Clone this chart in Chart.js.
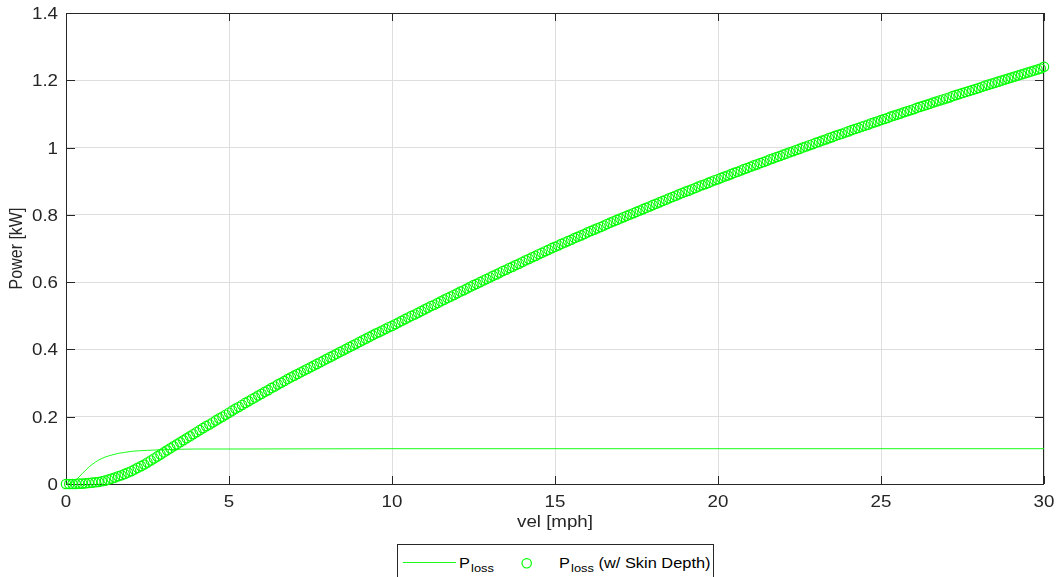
<!DOCTYPE html>
<html>
<head>
<meta charset="utf-8">
<script src="https://cdn.jsdelivr.net/npm/chart.js@4.4.1/dist/chart.umd.min.js"></script>
<style>
  html, body { margin: 0; padding: 0; background: #fff; }
  #wrap { position: relative; width: 1058px; height: 577px; overflow: hidden; }
  #legend {
    position: absolute; left: 397px; top: 544px; width: 317px; height: 40px;
    box-sizing: border-box; border: 1px solid #262626; background: #fff;
    font-family: "Liberation Sans", Arial, sans-serif; color: #000;
  }
  #legend .lab {
    position: absolute; top: 11px; font-size: 14px; line-height: 14px; white-space: nowrap;
    transform: scaleX(1.17); transform-origin: left center;
  }
  #legend .sub { font-size: 11px; position: relative; top: 4px; margin-left: 1px; }
  #legend svg { position: absolute; }
</style>
</head>
<body>
<div id="wrap">
  <canvas id="powerChart" width="1058" height="577"></canvas>
  <div id="legend"></div>
</div>
<script>
// x values (mph) shared by the circle series
const vel = [
  0,0.1,0.2,0.3,0.4,0.5,0.6,0.7,0.8,0.9,
  1,1.1,1.2,1.3,1.4,1.5,1.6,1.7,1.8,1.9,
  2,2.1,2.2,2.3,2.4,2.5,2.6,2.7,2.8,2.9,
  3,3.1,3.2,3.3,3.4,3.5,3.6,3.7,3.8,3.9,
  4,4.1,4.2,4.3,4.4,4.5,4.6,4.7,4.8,4.9,
  5,5.1,5.2,5.3,5.4,5.5,5.6,5.7,5.8,5.9,
  6,6.1,6.2,6.3,6.4,6.5,6.6,6.7,6.8,6.9,
  7,7.1,7.2,7.3,7.4,7.5,7.6,7.7,7.8,7.9,
  8,8.1,8.2,8.3,8.4,8.5,8.6,8.7,8.8,8.9,
  9,9.1,9.2,9.3,9.4,9.5,9.6,9.7,9.8,9.9,
  10,10.1,10.2,10.3,10.4,10.5,10.6,10.7,10.8,10.9,
  11,11.1,11.2,11.3,11.4,11.5,11.6,11.7,11.8,11.9,
  12,12.1,12.2,12.3,12.4,12.5,12.6,12.7,12.8,12.9,
  13,13.1,13.2,13.3,13.4,13.5,13.6,13.7,13.8,13.9,
  14,14.1,14.2,14.3,14.4,14.5,14.6,14.7,14.8,14.9,
  15,15.1,15.2,15.3,15.4,15.5,15.6,15.7,15.8,15.9,
  16,16.1,16.2,16.3,16.4,16.5,16.6,16.7,16.8,16.9,
  17,17.1,17.2,17.3,17.4,17.5,17.6,17.7,17.8,17.9,
  18,18.1,18.2,18.3,18.4,18.5,18.6,18.7,18.8,18.9,
  19,19.1,19.2,19.3,19.4,19.5,19.6,19.7,19.8,19.9,
  20,20.1,20.2,20.3,20.4,20.5,20.6,20.7,20.8,20.9,
  21,21.1,21.2,21.3,21.4,21.5,21.6,21.7,21.8,21.9,
  22,22.1,22.2,22.3,22.4,22.5,22.6,22.7,22.8,22.9,
  23,23.1,23.2,23.3,23.4,23.5,23.6,23.7,23.8,23.9,
  24,24.1,24.2,24.3,24.4,24.5,24.6,24.7,24.8,24.9,
  25,25.1,25.2,25.3,25.4,25.5,25.6,25.7,25.8,25.9,
  26,26.1,26.2,26.3,26.4,26.5,26.6,26.7,26.8,26.9,
  27,27.1,27.2,27.3,27.4,27.5,27.6,27.7,27.8,27.9,
  28,28.1,28.2,28.3,28.4,28.5,28.6,28.7,28.8,28.9,
  29,29.1,29.2,29.3,29.4,29.5,29.6,29.7,29.8,29.9,
  30
];

// P_loss with skin depth [kW]
const pSkin = [
  0.000,0.000,0.000,0.000,0.001,0.001,0.002,0.003,0.004,0.005,
  0.006,0.008,0.010,0.013,0.016,0.019,0.023,0.026,0.030,0.034,
  0.038,0.043,0.048,0.053,0.058,0.064,0.070,0.076,0.082,0.088,
  0.094,0.100,0.106,0.112,0.118,0.124,0.130,0.136,0.142,0.148,
  0.154,0.160,0.166,0.172,0.177,0.183,0.189,0.195,0.200,0.206,
  0.212,0.218,0.224,0.229,0.235,0.241,0.246,0.252,0.257,0.263,
  0.268,0.274,0.279,0.285,0.290,0.296,0.301,0.306,0.312,0.317,
  0.322,0.327,0.332,0.337,0.342,0.347,0.352,0.357,0.362,0.367,
  0.372,0.377,0.382,0.387,0.392,0.397,0.402,0.407,0.412,0.417,
  0.422,0.427,0.432,0.437,0.442,0.447,0.451,0.456,0.461,0.466,
  0.470,0.475,0.480,0.485,0.490,0.495,0.500,0.504,0.509,0.514,
  0.519,0.524,0.529,0.533,0.538,0.543,0.548,0.553,0.557,0.562,
  0.567,0.572,0.576,0.581,0.586,0.591,0.595,0.600,0.605,0.609,
  0.614,0.619,0.623,0.628,0.633,0.637,0.642,0.646,0.651,0.655,
  0.660,0.665,0.669,0.674,0.678,0.683,0.687,0.692,0.696,0.701,
  0.705,0.709,0.714,0.718,0.722,0.726,0.731,0.735,0.739,0.743,
  0.748,0.752,0.756,0.760,0.764,0.768,0.773,0.777,0.781,0.785,
  0.789,0.793,0.797,0.801,0.805,0.809,0.813,0.817,0.821,0.825,
  0.829,0.833,0.837,0.841,0.845,0.849,0.853,0.857,0.861,0.865,
  0.869,0.872,0.876,0.880,0.884,0.888,0.891,0.895,0.899,0.903,
  0.906,0.910,0.914,0.917,0.921,0.925,0.928,0.932,0.936,0.939,
  0.943,0.947,0.950,0.954,0.957,0.961,0.965,0.968,0.972,0.975,
  0.979,0.982,0.986,0.989,0.993,0.996,1.000,1.003,1.007,1.010,
  1.014,1.017,1.021,1.024,1.028,1.031,1.035,1.038,1.041,1.045,
  1.048,1.052,1.055,1.058,1.062,1.065,1.068,1.072,1.075,1.078,
  1.082,1.085,1.088,1.092,1.095,1.098,1.101,1.105,1.108,1.111,
  1.114,1.118,1.121,1.124,1.127,1.130,1.134,1.137,1.140,1.143,
  1.146,1.149,1.153,1.156,1.159,1.162,1.165,1.168,1.171,1.174,
  1.177,1.181,1.184,1.187,1.190,1.193,1.196,1.199,1.202,1.205,
  1.208,1.211,1.214,1.217,1.220,1.223,1.226,1.229,1.232,1.235,
  1.240
];

// plain P_loss line (rises fast, then flat)
const lineVel = [0,0.1,0.2,0.3,0.4,0.5,0.6,0.7,0.8,0.9,1,1.2,1.4,1.6,1.8,2,2.5,3,4,5,10,15,20,25,30];
const lineP = [0,0.001,0.005,0.012,0.021,0.031,0.041,0.050,0.058,0.065,0.071,0.080,0.086,0.091,0.094,0.097,0.100,0.102,0.104,0.104,0.105,0.105,0.105,0.105,0.105];

const xTicks = [0, 5, 10, 15, 20, 25, 30];
const yTicks = [0, 0.2, 0.4, 0.6, 0.8, 1, 1.2, 1.4];
const xTitle = "vel [mph]";
const yTitle = "Power [kW]";
const seriesNames = [
  { main: "P", sub: "loss", rest: "" },
  { main: "P", sub: "loss", rest: " (w/ Skin Depth)" }
];

const GREEN = "#00ff00";
const AXIS = "#262626";
const FONT = '"Liberation Sans", Arial, sans-serif';
const STRETCH = 1.17;

function stretchedText(ctx, text, x, y, align, baseline, rot) {
  ctx.save();
  ctx.translate(x, y);
  ctx.scale(STRETCH, 1);
  if (rot) ctx.rotate(rot);
  ctx.textAlign = align;
  ctx.textBaseline = baseline;
  ctx.fillText(text, 0, 0);
  ctx.restore();
}

// matlab-ish box, inward ticks and stretched labels
const matlabAxes = {
  id: "matlabAxes",
  beforeDatasetsDraw(chart) {
    const { ctx, chartArea: a, scales: { x, y } } = chart;
    ctx.save();
    ctx.strokeStyle = AXIS;
    ctx.lineWidth = 1;
    ctx.strokeRect(a.left + 0.5, a.top + 0.5, a.right - a.left - 1, a.bottom - a.top);
    ctx.beginPath();
    xTicks.forEach(v => {
      const px = Math.round(x.getPixelForValue(v)) + 0.5;
      ctx.moveTo(px, a.bottom); ctx.lineTo(px, a.bottom - 8);
      ctx.moveTo(px, a.top); ctx.lineTo(px, a.top + 8);
    });
    yTicks.forEach(v => {
      const py = Math.round(y.getPixelForValue(v)) + 0.5;
      ctx.moveTo(a.left, py); ctx.lineTo(a.left + 9, py);
      ctx.moveTo(a.right, py); ctx.lineTo(a.right - 9, py);
    });
    ctx.stroke();
    ctx.restore();
  },
  afterDraw(chart) {
    const { ctx, chartArea: a, scales: { x, y } } = chart;
    ctx.save();
    ctx.fillStyle = AXIS;
    ctx.font = "16px " + FONT;
    xTicks.forEach(v => stretchedText(ctx, String(v), x.getPixelForValue(v), 507, "center", "alphabetic"));
    yTicks.forEach(v => stretchedText(ctx, String(v), 58, y.getPixelForValue(v) + 6, "right", "alphabetic"));
    stretchedText(ctx, xTitle, (a.left + a.right) / 2, 527, "center", "alphabetic");
    stretchedText(ctx, yTitle, 17, (a.top + a.bottom) / 2, "center", "middle", -Math.PI / 2);
    ctx.restore();
  }
};

new Chart(document.getElementById("powerChart"), {
  type: "line",
  data: {
    datasets: [{
      label: "Ploss",
      data: lineVel.map((v, i) => ({ x: v, y: lineP[i] })),
      borderColor: GREEN,
      borderWidth: 0.9,
      pointRadius: 0,
      cubicInterpolationMode: "monotone",
      fill: false,
      order: 2
    }, {
      label: "Ploss (w/ Skin Depth)",
      data: vel.map((v, i) => ({ x: v, y: pSkin[i] })),
      showLine: false,
      pointStyle: "circle",
      pointRadius: 4.7,
      pointBorderWidth: 1.2,
      pointBorderColor: GREEN,
      pointBackgroundColor: "rgba(0,0,0,0)",
      clip: false,
      order: 1
    }]
  },
  options: {
    responsive: false,
    animation: false,
    layout: { padding: { top: 13, right: 14, left: 0, bottom: 0 } },
    plugins: { legend: { display: false }, tooltip: { enabled: false } },
    scales: {
      x: {
        type: "linear", min: 0, max: 30,
        afterBuildTicks: s => { s.ticks = xTicks.map(v => ({ value: v })); },
        afterFit: s => { s.height = 93; },
        ticks: { display: false },
        grid: { color: "#dedede", drawTicks: false },
        border: { display: false }
      },
      y: {
        type: "linear", min: 0, max: 1.4,
        afterBuildTicks: s => { s.ticks = yTicks.map(v => ({ value: v })); },
        afterFit: s => { s.width = 66; },
        ticks: { display: false },
        grid: { color: "#dedede", drawTicks: false },
        border: { display: false }
      }
    }
  },
  plugins: [matlabAxes]
});

// legend as html so the subscripts stay real text
const legend = document.getElementById("legend");
legend.innerHTML =
  '<svg style="left:5px;top:14px" width="53" height="8"><line x1="0" y1="3.5" x2="53" y2="3.5" stroke="' + GREEN + '" stroke-width="0.9"/></svg>' +
  '<span class="lab" style="left:61px">' + seriesNames[0].main + '<span class="sub">' + seriesNames[0].sub + '</span>' + seriesNames[0].rest + '</span>' +
  '<svg style="left:122px;top:12px" width="14" height="14"><circle cx="6.7" cy="6.3" r="4.7" fill="none" stroke="' + GREEN + '" stroke-width="1.2"/></svg>' +
  '<span class="lab" style="left:161px">' + seriesNames[1].main + '<span class="sub">' + seriesNames[1].sub + '</span>' + seriesNames[1].rest + '</span>';
</script>
</body>
</html>
